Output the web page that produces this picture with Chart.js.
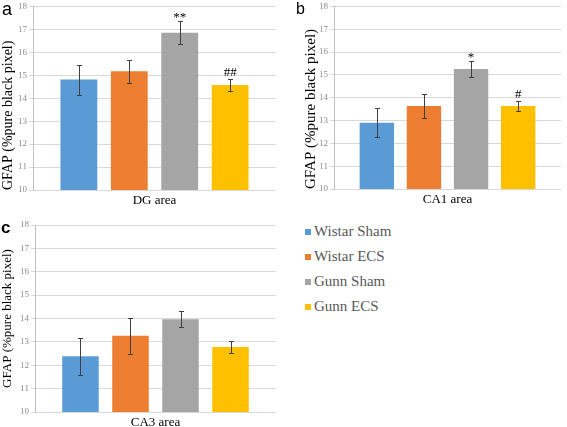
<!DOCTYPE html>
<html>
<head>
<meta charset="utf-8">
<script src="https://cdn.jsdelivr.net/npm/chart.js@4"></script>
<style>
body { margin: 0; background: #fff; width: 567px; height: 427px; position: relative; overflow: hidden; }
canvas { position: absolute; }
.tag { position: absolute; font-family: "Liberation Sans", Arial, sans-serif; color: #000; line-height: 1; }
#legend { position: absolute; left: 305px; top: 219px; font-family: "Liberation Serif", serif; font-size: 15px; color: #595959; }
#legend div { height: 25px; line-height: 25px; white-space: nowrap; }
#legend span { display: inline-block; width: 6px; height: 6px; margin-right: 3px; vertical-align: 1px; }
</style>
</head>
<body>
<canvas id="dg" width="283" height="213" style="left:0;top:-1px"></canvas>
<canvas id="ca1" width="265" height="213" style="left:302px;top:-1px"></canvas>
<canvas id="ca3" width="283" height="212" style="left:0;top:215px"></canvas>
<div class="tag" style="left:2px;top:0px;font-size:18px">a</div>
<div class="tag" style="left:296px;top:1px;font-size:16px">b</div>
<div class="tag" style="left:1px;top:219px;font-size:17px;font-weight:bold">c</div>
<div id="legend"></div>
<script>
// groups, colours
const groups = ['Wistar Sham', 'Wistar ECS', 'Gunn Sham', 'Gunn ECS'];
const colors = ['#5B9BD5', '#ED7D31', '#A5A5A5', '#FFC000'];
const yTicks = [10, 11, 12, 13, 14, 15, 16, 17, 18];

// values (mean, error)
const dgMean = [14.81, 15.17, 16.85, 14.57];
const dgErr = [0.65, 0.5, 0.5, 0.27];
const dgMarks = ['', '', '**', '##'];

const ca1Mean = [12.9, 13.64, 15.26, 13.64];
const ca1Err = [0.63, 0.54, 0.36, 0.23];
const ca1Marks = ['', '', '*', '#'];

const ca3Mean = [12.38, 13.26, 13.97, 12.78];
const ca3Err = [0.78, 0.78, 0.35, 0.24];
const ca3Marks = ['', '', '', ''];

const serif = '"Liberation Serif", "DejaVu Serif", serif';

// error bars + significance marks on top of the bars
const errorBars = {
    id: 'errorBars',
    afterDatasetsDraw(chart, args, opts) {
        const ctx = chart.ctx;
        const y = chart.scales.y;
        ctx.save();
        chart.data.datasets.forEach((ds, i) => {
            const bar = chart.getDatasetMeta(i).data[0];
            const v = ds.data[0], e = opts.errs[i];
            const top = Math.round(y.getPixelForValue(v + e)) + 0.5;
            const bot = Math.round(y.getPixelForValue(v - e)) + 0.5;
            const x = Math.round(bar.x) + 0.5;
            ctx.strokeStyle = '#404040';
            ctx.lineWidth = 1;
            ctx.beginPath();
            ctx.moveTo(x, top); ctx.lineTo(x, bot);
            ctx.moveTo(x - 2.5, top); ctx.lineTo(x + 2.5, top);
            ctx.moveTo(x - 2.5, bot); ctx.lineTo(x + 2.5, bot);
            ctx.stroke();
            const mark = opts.marks[i];
            if (mark) {
                ctx.fillStyle = '#000';
                ctx.font = '13px ' + serif;
                ctx.textAlign = 'center';
                ctx.textBaseline = 'alphabetic';
                const m = ctx.measureText(mark);
                ctx.fillText(mark, bar.x, top - 4 - m.actualBoundingBoxDescent);
            }
        });
        ctx.restore();
    }
};

function makeChart(id, area, means, errs, marks, yWidth, xHeight, pad, titleSize, titleAlign) {
    new Chart(document.getElementById(id), {
        type: 'bar',
        data: {
            labels: [area],
            datasets: groups.map((g, i) => ({
                label: g,
                data: [means[i]],
                backgroundColor: colors[i],
                categoryPercentage: 0.83,
                barPercentage: 0.73
            }))
        },
        options: {
            responsive: false,
            animation: false,
            layout: { padding: pad },
            plugins: {
                legend: { display: false },
                tooltip: { enabled: false },
                errorBars: { errs: errs, marks: marks }
            },
            scales: {
                x: {
                    grid: { display: false, drawTicks: false },
                    border: { display: false },
                    ticks: { color: '#000', font: { family: serif, size: 13 }, padding: 3 },
                    afterFit: s => { s.height = xHeight; }
                },
                y: {
                    min: yTicks[0],
                    max: yTicks[yTicks.length - 1],
                    afterBuildTicks: s => { s.ticks = yTicks.map(v => ({ value: v })); },
                    ticks: { color: '#8c8c8c', font: { family: serif, size: 9 }, padding: 2 },
                    grid: { color: '#d9d9d9', tickLength: 4 },
                    border: { color: '#bfbfbf' },
                    title: {
                        display: true,
                        text: 'GFAP (%pure black pixel)',
                        color: '#000',
                        font: { family: serif, size: titleSize },
                        padding: 0,
                        align: titleAlign
                    },
                    afterFit: s => { s.width = yWidth; }
                }
            }
        },
        plugins: [errorBars]
    });
}

makeChart('dg', 'DG area', dgMean, dgErr, dgMarks, 33, 22, { top: 0, right: 7 }, 14, 'start');
makeChart('ca1', 'CA1 area', ca1Mean, ca1Err, ca1Marks, 32, 23, { top: 0, right: 6 }, 15, 'start');
makeChart('ca3', 'CA3 area', ca3Mean, ca3Err, ca3Marks, 35, 15, { top: 10, right: 7 }, 13, 'center');

// legend
const legend = document.getElementById('legend');
groups.forEach((g, i) => {
    const row = document.createElement('div');
    const sq = document.createElement('span');
    sq.style.background = colors[i];
    row.appendChild(sq);
    row.appendChild(document.createTextNode(g));
    legend.appendChild(row);
});
</script>
</body>
</html>
